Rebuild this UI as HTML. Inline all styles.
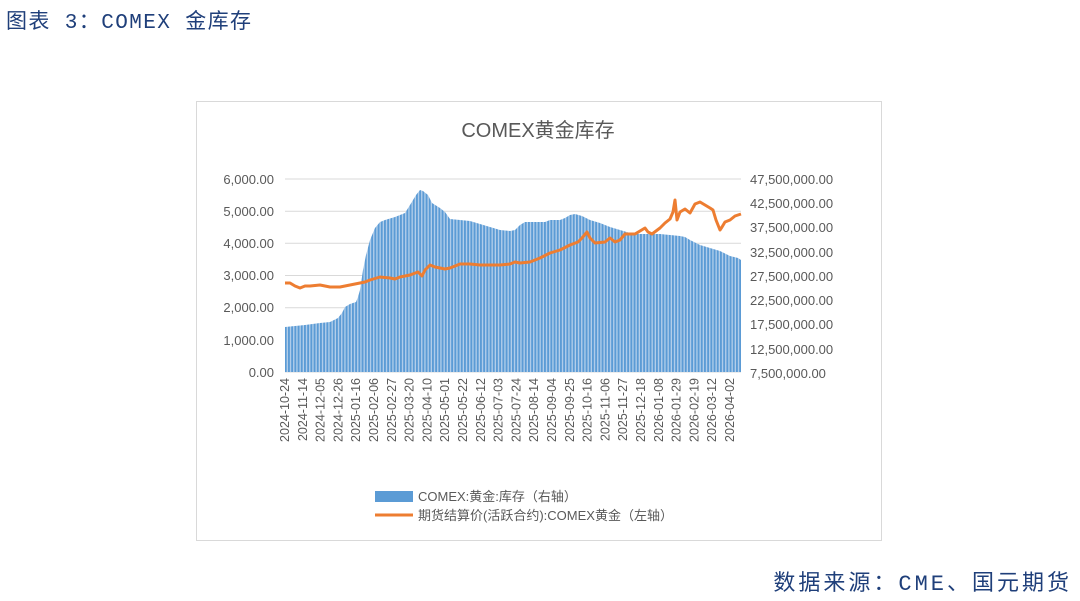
<!DOCTYPE html>
<html><head><meta charset="utf-8"><style>
body{margin:0;background:#fff;width:1080px;height:601px;overflow:hidden;font-family:"Liberation Sans","Noto Sans CJK SC",sans-serif}
</style></head><body>
<svg width="1080" height="601" xmlns="http://www.w3.org/2000/svg" style="position:absolute;left:0;top:0">
<defs>
<pattern id="st" width="3.2" height="10" patternUnits="userSpaceOnUse">
<rect width="3.2" height="10" fill="#b3cfeb"/>
<rect width="1.9" height="10" fill="#5b9bd5"/>
</pattern>
<clipPath id="cp"><polygon points="285,372 285,327 305,325 320,323 330,322 332,321 338,318 342,313 345,307 350,304 356,302 358,297 360,290 363,270 366,255 370,240 375,228 380,222 385,220 395,217 405,213 410,205 416,195 420,190 423,191 428,195 432,203 440,208 445,212 450,219 460,220 470,221 480,224 490,227 500,230 510,231 515,230 520,225 525,222 535,222 545,222 550,220 560,220 565,218 570,215 575,214 582,216 590,220 600,223 610,227 620,230 630,233 640,234 650,234 660,234 670,235 680,236 685,237 690,240 700,245 710,248 720,251 730,256 738,258 741,260 741,372"/></clipPath>
</defs>
<text x="6" y="28" font-size="21" letter-spacing="1.4" fill="#1f3f7a" font-family="Liberation Mono,'Noto Sans CJK SC',monospace">图表 3：COMEX 金库存</text>
<rect x="196.5" y="101.5" width="685" height="439" fill="#fff" stroke="#d9d9d9"/>
<text x="538" y="137" font-size="20" fill="#595959" text-anchor="middle">COMEX黄金库存</text>
<g stroke="#d9d9d9" stroke-width="1">
<line x1="285" x2="741" y1="179" y2="179"/><line x1="285" x2="741" y1="211.2" y2="211.2"/><line x1="285" x2="741" y1="243.3" y2="243.3"/><line x1="285" x2="741" y1="275.5" y2="275.5"/><line x1="285" x2="741" y1="307.7" y2="307.7"/><line x1="285" x2="741" y1="339.8" y2="339.8"/><line x1="285" x2="741" y1="372" y2="372"/>
</g>
<rect x="285" y="170" width="456" height="202" fill="url(#st)" clip-path="url(#cp)"/>
<g font-size="13" fill="#595959" text-anchor="end">
<text x="274" y="184">6,000.00</text><text x="274" y="216">5,000.00</text><text x="274" y="248">4,000.00</text><text x="274" y="280">3,000.00</text><text x="274" y="312">2,000.00</text><text x="274" y="345">1,000.00</text><text x="274" y="377">0.00</text>
</g>
<g font-size="13" fill="#595959">
<text x="750" y="184">47,500,000.00</text><text x="750" y="208">42,500,000.00</text><text x="750" y="232">37,500,000.00</text><text x="750" y="257">32,500,000.00</text><text x="750" y="281">27,500,000.00</text><text x="750" y="305">22,500,000.00</text><text x="750" y="329">17,500,000.00</text><text x="750" y="354">12,500,000.00</text><text x="750" y="378">7,500,000.00</text>
</g>
<polyline fill="none" stroke="#ed7d31" stroke-width="3" stroke-linejoin="round" points="285,283 290,283 295,286 300,288 305,286 310,286 320,285 330,287 340,287 350,285 360,283 365,282 370,280 380,277 390,278 395,279 400,277 410,275 418,272 422,276 425,270 430,265 435,267 440,268 445,269 450,268 455,266 460,264 470,264 480,265 490,265 500,265 510,264 515,262 520,263 530,262 540,258 550,253 560,250 570,245 578,242 582,238 587,232 590,238 595,243 605,242 610,238 615,242 620,240 625,234 635,234 640,231 645,228 648,232 652,234 660,228 665,223 670,219 673,212 675,200 677,220 680,212 685,209 690,213 695,204 700,202 705,205 710,208 713,210 716,220 720,230 722,227 725,222 730,220 735,216 741,214"/>
<g font-size="12.5" fill="#595959" text-anchor="end" id="xl"></g>
<rect x="375" y="491" width="38" height="11" fill="#5b9bd5"/>
<text x="418" y="501" font-size="13" fill="#595959">COMEX:黄金:库存（右轴）</text>
<line x1="375" x2="413" y1="515" y2="515" stroke="#ed7d31" stroke-width="3"/>
<text x="418" y="520" font-size="13" fill="#595959">期货结算价(活跃合约):COMEX黄金（左轴）</text>
<text x="1072" y="590" font-size="22" letter-spacing="3" fill="#1f3f7a" text-anchor="end" font-family="Liberation Mono,'Noto Sans CJK SC',monospace">数据来源：CME、国元期货</text>
</svg>
<script>
var d=["2024-10-24","2024-11-14","2024-12-05","2024-12-26","2025-01-16","2025-02-06","2025-02-27","2025-03-20","2025-04-10","2025-05-01","2025-05-22","2025-06-12","2025-07-03","2025-07-24","2025-08-14","2025-09-04","2025-09-25","2025-10-16","2025-11-06","2025-11-27","2025-12-18","2026-01-08","2026-01-29","2026-02-19","2026-03-12","2026-04-02"];
var g=document.getElementById('xl'),s='';
for(var i=0;i<d.length;i++){var x=289+i*17.8;s+='<text transform="translate('+x+',378) rotate(-90)">'+d[i]+'</text>';}
g.innerHTML=s;
</script>
</body></html>
